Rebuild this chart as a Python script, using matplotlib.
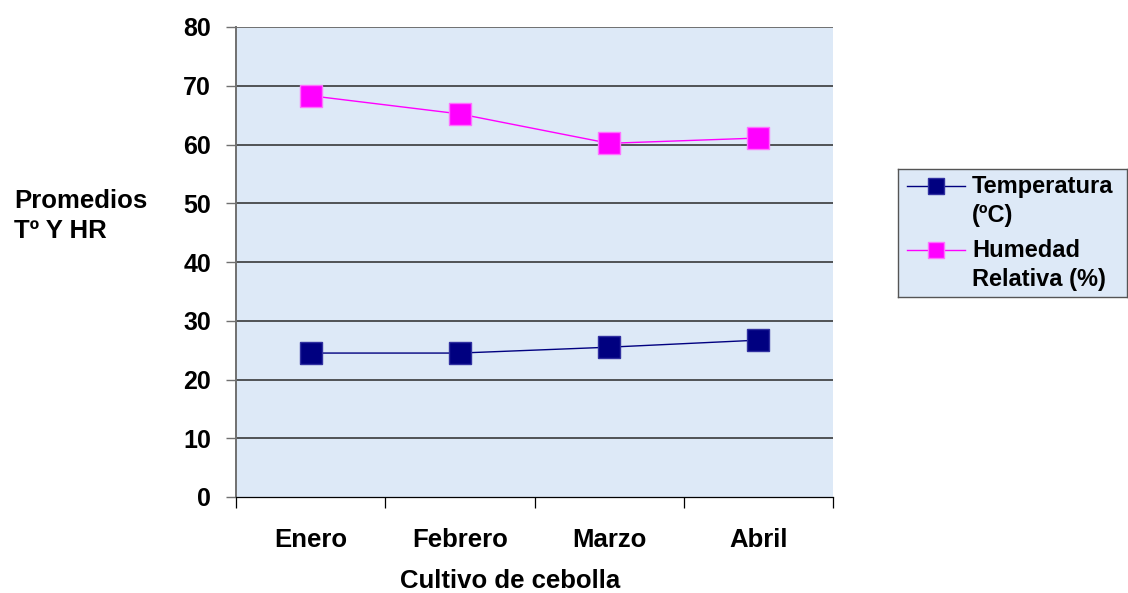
import numpy as np
import matplotlib
matplotlib.use('Agg')
import matplotlib.pyplot as plt

plt.rcParams['font.family'] = ['Liberation Sans', 'DejaVu Sans']
plt.rcParams['font.weight'] = 'bold'

meses = ['Enero', 'Febrero', 'Marzo', 'Abril']
temperatura = [24.5, 24.5, 25.5, 26.7]
humedad = [68.3, 65.2, 60.2, 61.1]
y_ticks = [0, 10, 20, 30, 40, 50, 60, 70, 80]

series = [
    ('Temperatura\n(ºC)', temperatura, '#000080', '#3030a0'),
    ('Humedad\nRelativa (%)', humedad, '#ff00ff', '#ff70ff'),
]

BG = '#dde9f7'
W, H = 1128, 593

fig = plt.figure(figsize=(W / 100, H / 100), dpi=100)
ax = fig.add_axes([236 / W, 1 - 497 / H, 597 / W, 470 / H])
ax.set_facecolor(BG)

x = np.arange(len(meses))
for label, vals, col, edge in series:
    ax.plot(x, vals, color=col, lw=1.0, marker='s', ms=16,
            mfc=col, mec=edge, mew=1.0, zorder=3)

ax.set_xlim(-0.5, len(meses) - 0.5)
ax.set_ylim(0, 80)
ax.set_yticks(y_ticks)
ax.set_yticklabels([str(v) for v in y_ticks], fontsize=18, fontweight='bold')
for v in y_ticks[1:-1]:
    ax.axhline(v, color='#2a2a2a', lw=1.1, zorder=1)
ax.axhline(80, color='#707070', lw=1.4, zorder=1)

# ticks at category boundaries, labels at centres
ax.set_xticks(np.arange(-0.5, len(meses)), labels=[''] * (len(meses) + 1))
ax.set_xticks(x, minor=True)
ax.set_xticklabels(meses, minor=True, fontsize=18.5, fontweight='bold')
ax.tick_params(axis='x', which='major', length=8, width=0.9, color='black')
ax.tick_params(axis='x', which='minor', length=0, pad=22)
ax.tick_params(axis='y', length=7, width=1.0, color='#707070', pad=11)

for s in ['top', 'right']:
    ax.spines[s].set_visible(False)
ax.spines['left'].set_color('#707070')
ax.spines['left'].set_linewidth(1.4)
ax.spines['bottom'].set_color('black')
ax.spines['bottom'].set_linewidth(0.9)

fig.text(510 / W, 1 - 581 / H, 'Cultivo de cebolla', fontsize=18.5,
         fontweight='bold', ha='center', va='center')
fig.text(14 / W, 1 - 216 / H, 'Promedios\nTº Y HR', fontsize=18.5,
         fontweight='bold', ha='left', va='center', linespacing=1.35)

# legend box drawn in pixel units
lax = fig.add_axes([898 / W, 1 - 297 / H, 229 / W, 128 / H])
lax.set_facecolor(BG)
lax.set_xlim(0, 229)
lax.set_ylim(128, 0)
lax.set_xticks([])
lax.set_yticks([])
for s in lax.spines.values():
    s.set_color('#555555')
    s.set_linewidth(1.0)
for i, (label, vals, col, edge) in enumerate(series):
    yh = 17 + 64 * i
    lax.plot([9, 67], [yh, yh], color=col, lw=1.0)
    lax.plot([38], [yh], marker='s', ms=11.5, mfc=col, mec=edge, ls='none')
    lax.text(74, yh + 15, label, fontsize=17, fontweight='bold',
             ha='left', va='center', linespacing=1.3)

fig.savefig('out.png', dpi=100)
